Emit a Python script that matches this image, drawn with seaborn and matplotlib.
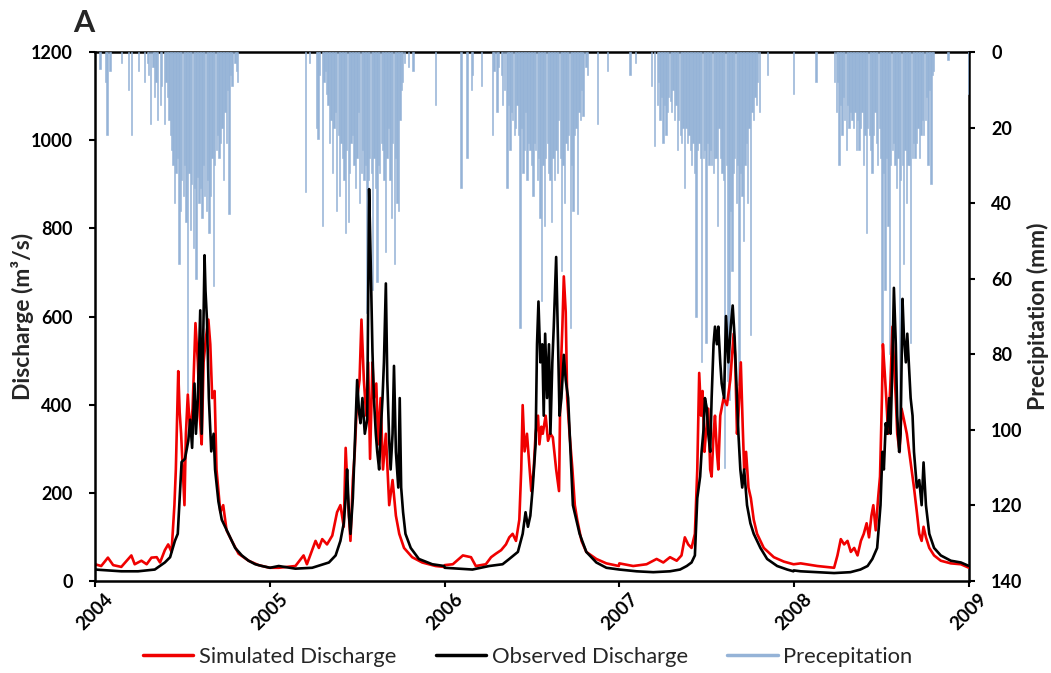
import pandas as pd
import matplotlib
matplotlib.use("Agg")
import matplotlib.pyplot as plt
import matplotlib.dates as mdates
from matplotlib.lines import Line2D
import seaborn as sns

years = [2004, 2005, 2006, 2007, 2008]

# Observed discharge (m3/s): day of year and value
obs_day_2004 = [0, 55, 90, 125, 146, 157, 167, 173, 181, 188, 195, 199, 203, 208, 211, 215, 220, 223, 229, 231,
                234, 238, 243, 248, 251, 258, 265, 279, 293, 307, 321, 335, 349, 365]
obs_q_2004 = [26, 22, 22, 26, 42, 54, 91, 107, 270, 277, 318, 366, 302, 448, 334, 415, 614, 334, 739, 658,
              594, 415, 294, 334, 253, 180, 139, 107, 75, 58, 46, 38, 34, 30]
obs_day_2005 = [0, 18, 53, 88, 123, 137, 147, 154, 158, 161, 165, 168, 173, 177, 182, 186, 189, 193, 198, 203,
                207, 210, 214, 217, 221, 224, 228, 231, 235, 238, 242, 245, 249, 252, 256, 259, 263, 268, 271, 274,
                278, 283, 294, 311, 339, 364]
obs_q_2005 = [30, 34, 28, 30, 42, 58, 91, 131, 188, 253, 148, 107, 188, 310, 456, 383, 358, 415, 334, 366,
              889, 739, 520, 415, 334, 293, 253, 334, 415, 496, 675, 456, 318, 253, 334, 488, 293, 212, 415, 212,
              156, 107, 75, 50, 38, 34]
obs_day_2006 = [0, 30, 58, 93, 121, 135, 153, 163, 169, 174, 179, 184, 190, 193, 196, 200, 204, 207, 210, 214,
                218, 221, 225, 228, 233, 237, 240, 244, 249, 253, 258, 263, 268, 275, 282, 296, 317, 338, 364]
obs_q_2006 = [30, 28, 26, 34, 38, 50, 66, 107, 156, 123, 148, 212, 310, 537, 634, 496, 537, 375, 561, 415,
              537, 334, 496, 577, 735, 537, 375, 415, 513, 456, 415, 294, 172, 139, 107, 66, 42, 30, 26]
obs_day_2007 = [0, 36, 71, 106, 127, 141, 151, 158, 163, 169, 172, 176, 179, 183, 186, 190, 193, 197, 200, 204,
                207, 211, 214, 219, 223, 228, 233, 237, 241, 246, 249, 253, 257, 261, 267, 274, 281, 295, 309, 330,
                351, 364]
obs_q_2007 = [26, 22, 20, 22, 26, 34, 42, 58, 188, 237, 293, 342, 415, 391, 334, 293, 415, 537, 577, 537,
              577, 496, 448, 415, 601, 496, 577, 625, 553, 415, 334, 253, 212, 253, 172, 131, 107, 75, 50, 34,
              26, 22]
obs_day_2008 = [0, 14, 49, 84, 118, 139, 154, 164, 174, 181, 185, 188, 192, 195, 199, 202, 206, 209, 213, 216,
                220, 223, 227, 230, 234, 237, 241, 244, 248, 251, 257, 262, 267, 271, 276, 283, 293, 307, 328, 349,
                366]
obs_q_2008 = [24, 22, 20, 18, 20, 26, 34, 50, 75, 172, 293, 253, 358, 334, 415, 334, 496, 665, 537, 375,
              293, 334, 640, 553, 496, 561, 480, 415, 375, 293, 212, 229, 172, 269, 172, 107, 75, 58, 46, 42,
              34]

# Simulated discharge (m3/s): day of year and value
sim_day_2004 = [0, 13, 27, 38, 55, 76, 83, 97, 108, 118, 129, 136, 146, 153, 160, 166, 169, 174, 177, 180,
                187, 190, 194, 199, 204, 210, 215, 219, 223, 227, 232, 237, 241, 245, 250, 254, 258, 262, 268, 275,
                286, 300, 321, 342, 365]
sim_q_2004 = [38, 34, 53, 36, 32, 58, 38, 46, 38, 53, 54, 42, 70, 83, 66, 172, 253, 476, 383, 334,
              172, 334, 423, 334, 391, 585, 496, 375, 310, 496, 553, 593, 537, 415, 431, 253, 204, 156, 172, 115,
              91, 62, 46, 36, 30]
sim_day_2005 = [0, 18, 53, 70, 77, 95, 102, 109, 119, 130, 140, 147, 154, 158, 163, 168, 173, 177, 182, 187,
                191, 196, 201, 205, 209, 214, 217, 222, 226, 231, 236, 242, 249, 256, 263, 270, 280, 297, 318, 346,
                364]
sim_q_2005 = [30, 30, 34, 58, 38, 91, 75, 95, 83, 103, 156, 172, 123, 302, 180, 91, 229, 293, 415, 456,
              593, 456, 375, 496, 277, 496, 415, 448, 310, 415, 253, 334, 172, 229, 148, 107, 75, 54, 42, 34,
              32]
sim_day_2006 = [0, 17, 38, 55, 65, 86, 97, 107, 118, 128, 135, 142, 149, 156, 160, 163, 167, 172, 176, 181,
                186, 190, 195, 198, 202, 205, 211, 216, 221, 226, 233, 239, 242, 246, 249, 253, 256, 261, 267, 272,
                277, 286, 296, 317, 338, 364]
sim_q_2006 = [36, 38, 58, 54, 34, 38, 54, 62, 70, 83, 99, 107, 91, 139, 253, 399, 294, 334, 277, 204,
              253, 334, 375, 310, 350, 334, 375, 318, 334, 326, 253, 204, 456, 577, 691, 610, 415, 334, 253, 172,
              139, 91, 66, 50, 40, 34]
sim_day_2007 = [0, 29, 57, 78, 92, 106, 120, 130, 137, 144, 151, 158, 163, 167, 171, 174, 178, 181, 186, 190,
                193, 197, 200, 204, 207, 211, 218, 225, 232, 239, 242, 246, 249, 254, 258, 261, 265, 270, 275, 281,
                288, 302, 323, 344, 364]
sim_q_2007 = [40, 34, 38, 50, 42, 54, 46, 58, 99, 83, 75, 107, 253, 472, 375, 431, 293, 334, 391, 253,
              237, 334, 375, 293, 253, 375, 415, 399, 456, 561, 513, 334, 375, 496, 350, 253, 293, 212, 188, 139,
              107, 75, 54, 44, 38]
sim_day_2008 = [0, 14, 49, 84, 91, 98, 105, 112, 119, 126, 133, 140, 146, 152, 157, 162, 166, 171, 176, 180,
                184, 186, 190, 193, 197, 202, 206, 209, 213, 216, 221, 225, 230, 236, 241, 246, 251, 257, 262, 267,
                271, 276, 283, 293, 307, 328, 349, 366]
sim_q_2008 = [38, 40, 34, 30, 58, 95, 83, 91, 66, 75, 58, 91, 107, 131, 99, 148, 172, 115, 188, 237,
              415, 537, 470, 415, 334, 456, 577, 496, 415, 334, 293, 391, 366, 334, 293, 253, 212, 156, 107, 91,
              123, 99, 75, 58, 46, 40, 38, 30]

# Precipitation (mm), one value per 3-day step starting 1 January
precip_2004 = [0, 0, 0, 4.5, 0, 0, 0, 8, 22, 0,
               5, 0, 0, 0, 0, 0, 0, 0, 3, 0,
               0, 0, 0, 10, 0, 22, 0, 0, 0, 0,
               5, 0, 0, 0, 8, 0, 3, 6, 19, 0,
               4, 12, 8, 18, 0, 14, 9, 0, 19, 8,
               12, 18, 22, 26, 30, 40, 32, 28, 56, 42,
               34, 38, 30, 45, 90, 32, 47, 35, 52, 36,
               60, 33, 40, 36, 44, 30, 38, 42, 34, 48,
               38, 28, 62, 30, 26, 22, 28, 24, 20, 34,
               16, 24, 10, 43, 6, 9, 0, 3, 5, 8,
               0, 0, 0, 0, 0, 0, 0, 0, 0, 0,
               0, 0, 0, 0, 0, 0, 0, 0, 0, 0, 0, 0]
precip_2005 = [0, 0, 0, 0, 0, 0, 0, 0, 0, 0,
               0, 0, 0, 0, 0, 0, 0, 0, 0, 0,
               0, 0, 0, 0, 37, 0, 0, 3, 0, 0,
               0, 0, 20, 23, 6, 0, 46, 8, 5, 11,
               14, 24, 18, 32, 20, 16, 42, 22, 38, 24,
               28, 34, 48, 26, 45, 32, 24, 22, 30, 36,
               28, 16, 40, 32, 26, 34, 30, 69, 34, 28,
               32, 63, 28, 36, 61, 30, 32, 24, 26, 34,
               53, 28, 20, 34, 44, 24, 56, 28, 40, 42,
               18, 10, 8, 3, 0, 0, 4, 0, 0, 5,
               0, 0, 0, 0, 0, 0, 0, 0, 0, 0,
               0, 0, 0, 0, 0, 14, 0, 0, 0, 0, 0, 0]
precip_2006 = [0, 0, 0, 0, 0, 0, 0, 0, 0, 0,
               0, 36, 0, 0, 0, 28, 0, 0, 10, 6,
               0, 0, 0, 0, 0, 9, 0, 0, 0, 0,
               0, 0, 0, 22, 5, 0, 16, 4, 0, 6,
               14, 10, 0, 36, 14, 26, 16, 18, 22, 20,
               14, 22, 73, 20, 32, 26, 16, 34, 24, 26,
               30, 38, 24, 26, 34, 28, 44, 66, 30, 46,
               28, 24, 32, 34, 45, 28, 34, 26, 32, 18,
               28, 58, 30, 40, 24, 26, 22, 73, 30, 42,
               22, 20, 43, 16, 18, 10, 17, 0, 4, 6,
               0, 0, 0, 0, 0, 0, 19, 0, 0, 0,
               0, 0, 0, 5, 0, 0, 0, 0, 0, 0, 0, 0]
precip_2007 = [0, 0, 0, 0, 0, 0, 0, 6, 0, 0,
               0, 3, 0, 0, 0, 0, 0, 0, 0, 0,
               0, 0, 9, 0, 25, 0, 14, 8, 18, 12,
               24, 14, 22, 16, 12, 13, 16, 10, 18, 14,
               26, 18, 22, 24, 20, 36, 20, 24, 22, 26,
               30, 24, 32, 70, 26, 24, 28, 82, 28, 26,
               77, 24, 30, 26, 30, 32, 28, 28, 46, 20,
               28, 32, 34, 110, 30, 87, 92, 42, 58, 32,
               28, 40, 30, 88, 32, 38, 50, 30, 24, 40,
               20, 75, 16, 18, 12, 14, 8, 16, 0, 0,
               0, 0, 0, 6, 0, 0, 0, 0, 0, 0,
               0, 0, 0, 0, 0, 0, 0, 0, 0, 0, 0, 11]
precip_2008 = [0, 0, 0, 0, 0, 0, 0, 0, 0, 0,
               0, 0, 0, 0, 0, 8, 0, 0, 0, 0,
               0, 0, 0, 0, 0, 0, 0, 0, 8, 16,
               8, 30, 14, 22, 12, 18, 26, 14, 20, 16,
               18, 20, 16, 26, 18, 26, 20, 16, 30, 22,
               48, 20, 22, 26, 32, 22, 16, 24, 30, 20,
               28, 77, 32, 63, 28, 46, 80, 30, 26, 24,
               30, 36, 28, 106, 34, 30, 56, 26, 40, 30,
               30, 77, 28, 24, 28, 24, 20, 28, 22, 18,
               22, 18, 12, 30, 10, 35, 6, 5, 0, 0,
               0, 0, 0, 0, 0, 0, 0, 2, 0, 0,
               0, 0, 0, 0, 0, 0, 0, 0, 0, 0, 0, 11]

obs_days = [obs_day_2004, obs_day_2005, obs_day_2006, obs_day_2007, obs_day_2008]
obs_vals = [obs_q_2004, obs_q_2005, obs_q_2006, obs_q_2007, obs_q_2008]
sim_days = [sim_day_2004, sim_day_2005, sim_day_2006, sim_day_2007, sim_day_2008]
sim_vals = [sim_q_2004, sim_q_2005, sim_q_2006, sim_q_2007, sim_q_2008]
precip = [precip_2004, precip_2005, precip_2006, precip_2007, precip_2008]

RED = "#F00000"
BLACK = "#000000"
RAIN = "#95B3D7"


def series_frame(day_lists, value_lists):
    dates, values = [], []
    for yr, days, vals in zip(years, day_lists, value_lists):
        start = pd.Timestamp(f"{yr}-01-01")
        dates += [start + pd.Timedelta(days=d) for d in days]
        values += list(vals)
    return pd.DataFrame({"date": dates, "q": values})


sim_df = series_frame(sim_days, sim_vals)
obs_df = series_frame(obs_days, obs_vals)

rain_dates, rain_mm = [], []
for yr, vals in zip(years, precip):
    start = pd.Timestamp(f"{yr}-01-01")
    for i, v in enumerate(vals):
        if v > 0:
            rain_dates.append(start + pd.Timedelta(days=3 * i))
            rain_mm.append(v)

sns.set_style("white")
plt.rcParams["font.family"] = ["Lato", "DejaVu Sans"]

W, H = 1051, 673
fig = plt.figure(figsize=(W / 100, H / 100), dpi=100)
ax = fig.add_axes([95 / W, 1 - 581 / H, 874 / W, 529 / H])
axp = ax.twinx()
ax.set_zorder(2)
axp.set_zorder(1)
ax.patch.set_visible(False)

# precipitation hanging from the top on the reversed right axis
axp.bar(mdates.date2num(rain_dates), rain_mm, width=2.8, align="edge",
        color=RAIN, edgecolor=RAIN, linewidth=0.4, zorder=3)
axp.set_ylim(140, 0)
axp.set_yticks(range(0, 141, 20))

sns.lineplot(data=sim_df, x="date", y="q", ax=ax, color=RED, linewidth=1.9,
             estimator=None, sort=False)
sns.lineplot(data=obs_df, x="date", y="q", ax=ax, color=BLACK, linewidth=1.9,
             estimator=None, sort=False)

x0 = mdates.date2num(pd.Timestamp("2004-01-01"))
x1 = mdates.date2num(pd.Timestamp("2009-01-01"))
ax.set_xlim(x0, x1)
axp.set_xlim(x0, x1)
ax.set_ylim(0, 1200)
ax.set_yticks(range(0, 1201, 200))
ax.xaxis.set_major_locator(mdates.YearLocator())
ax.xaxis.set_major_formatter(mdates.DateFormatter("%Y"))

for s in ("top", "right"):
    ax.spines[s].set_visible(False)
for s in ("left", "bottom"):
    ax.spines[s].set_color("black")
    ax.spines[s].set_linewidth(1.8)
    axp.spines[s].set_visible(False)
for s in ("top", "right"):
    axp.spines[s].set_visible(True)
    axp.spines[s].set_color("black")
    axp.spines[s].set_linewidth(1.8)

ax.tick_params(axis="y", left=True, direction="out", length=4, width=1.5,
               pad=12, labelsize=13, colors="black")
ax.tick_params(axis="x", bottom=True, direction="out", length=4.5, width=1.5,
               pad=2, labelsize=13.5, colors="black")
axp.tick_params(axis="y", right=True, left=False, direction="out", length=4,
                width=1.5, pad=12, labelsize=13, colors="black")

for lab in ax.get_yticklabels() + axp.get_yticklabels():
    lab.set_fontweight("bold")
for lab in ax.get_xticklabels():
    lab.set_fontweight("bold")
    lab.set_rotation(45)
    lab.set_ha("center")

ax.set_xlabel("")
ax.set_ylabel("Discharge (m³/s)", fontsize=16.5, fontweight="bold")
ax.yaxis.set_label_coords(-0.07, 0.5)
axp.set_ylabel("Precipitation (mm)", fontsize=16.5, fontweight="bold")
axp.yaxis.set_label_coords(1.066, 0.5)

handles = [Line2D([], [], color=RED, lw=2.5),
           Line2D([], [], color=BLACK, lw=2.5),
           Line2D([], [], color=RAIN, lw=2.5)]
fig.legend(handles, ["Simulated Discharge", "Observed Discharge", "Precepitation"],
           loc="center", bbox_to_anchor=(0.502, 0.024), ncol=3, frameon=False,
           fontsize=15.8, handlelength=2.3, handletextpad=0.25, columnspacing=1.8)

fig.text(73 / W, 1 - 32 / H, "A", fontsize=22, fontweight="bold",
         ha="left", va="baseline")

fig.savefig("out.png", dpi=100)
